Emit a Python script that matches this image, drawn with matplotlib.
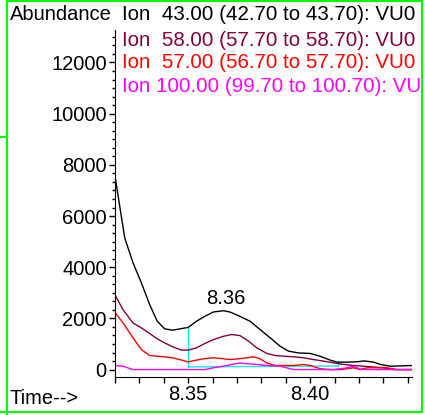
import matplotlib
matplotlib.use("Agg")
import matplotlib.pyplot as plt
from matplotlib.ticker import MultipleLocator, AutoMinorLocator, FormatStrFormatter
from matplotlib.patches import Rectangle
from matplotlib.lines import Line2D

plt.rcParams['font.family'] = ['Liberation Sans', 'DejaVu Sans']

# ion 43 (black)
t43 = [8.3199, 8.3240, 8.3274, 8.3308, 8.3342, 8.3373, 8.3404, 8.3436, 8.3466, 8.3500,
       8.3534, 8.3568, 8.3603, 8.3644, 8.3671, 8.3712, 8.3753, 8.3795, 8.3836, 8.3877,
       8.3911, 8.3952, 8.4000, 8.4041, 8.4082, 8.4110, 8.4151, 8.4199, 8.4219, 8.4260,
       8.4288, 8.4329, 8.4418]
v43 = [7620, 5140, 4170, 3390, 2540, 1890, 1590, 1540, 1590, 1650,
       1890, 2080, 2250, 2300, 2250, 2080, 1890, 1560, 1240, 910,
       720, 650, 630, 520, 370, 290, 290, 310, 340, 290,
       200, 130, 160]

# ion 58 (purple)
t58 = [8.3199, 8.3233, 8.3274, 8.3308, 8.3342, 8.3373, 8.3404, 8.3436, 8.3473, 8.3500,
       8.3534, 8.3568, 8.3603, 8.3644, 8.3678, 8.3712, 8.3747, 8.3781, 8.3822, 8.3856,
       8.3897, 8.3932, 8.3973, 8.4014, 8.4055, 8.4096, 8.4137, 8.4178, 8.4219, 8.4260,
       8.4301, 8.4342, 8.4418]
v58 = [2930, 2340, 1820, 1630, 1410, 1200, 1040, 890, 760, 760,
       850, 1020, 1170, 1300, 1370, 1330, 1110, 850, 630, 550,
       520, 500, 460, 390, 330, 260, 200, 160, 130, 100,
       70, 0, 0]

# ion 57 (red)
t57 = [8.3199, 8.3233, 8.3274, 8.3308, 8.3342, 8.3373, 8.3404, 8.3436, 8.3473, 8.3500,
       8.3534, 8.3568, 8.3603, 8.3637, 8.3671, 8.3705, 8.3740, 8.3767, 8.3795, 8.3822,
       8.3856, 8.3897, 8.3932, 8.3973, 8.4000, 8.4041, 8.4082, 8.4123, 8.4178, 8.4205,
       8.4233, 8.4274, 8.4315, 8.4356, 8.4418]
v57 = [2250, 1820, 1240, 780, 550, 520, 500, 460, 370, 300,
       370, 430, 460, 430, 390, 420, 460, 500, 420, 260,
       160, 160, 160, 200, 160, 30, 0, 0, 70, 0,
       70, 70, 70, 0, 0]

# ion 100 (magenta)
t100 = [8.3199, 8.3233, 8.3274, 8.3568, 8.3603, 8.3644, 8.3678, 8.3712, 8.3740, 8.3781,
        8.3822, 8.3877, 8.3932, 8.4096, 8.4151, 8.4178, 8.4205, 8.4233, 8.4418]
v100 = [160, 130, 0, 0, 70, 130, 200, 260, 230, 200,
        160, 130, 0, 0, 70, 130, 20, 0, 0]

# integration baseline
base_t = [8.35, 8.4115]
base_v = [105, 140]
drop_top = [1650, 330]

peak_label = "8.36"
peak_t = 8.3653
peak_v = 2770

legend_lines = ["Ion  43.00 (42.70 to 43.70): VU0",
                "Ion  58.00 (57.70 to 58.70): VU0",
                "Ion  57.00 (56.70 to 57.70): VU0",
                "Ion 100.00 (99.70 to 100.70): VU0"]
colors = ["black", "#800040", "#ff0000", "#ff00ff"]

fs = 14.5
fig = plt.figure(figsize=(4.25, 4.15), dpi=100)
ax = fig.add_axes([115/425, 1-377/415, 297/425, 347/415])

cyan = "#00f0f8"
ax.plot(base_t, base_v, color=cyan, lw=1)
ax.plot([base_t[0], base_t[0]], [base_v[0], drop_top[0]], color=cyan, lw=1)
ax.plot([base_t[1], base_t[1]], [base_v[1], drop_top[1]], color=cyan, lw=1)

ax.plot(t43, v43, color=colors[0], lw=1)
ax.plot(t58, v58, color=colors[1], lw=1)
ax.plot(t57, v57, color=colors[2], lw=1)
ax.plot(t100, v100, color=colors[3], lw=1)

ax.text(peak_t, peak_v, peak_label, ha="center", va="center", fontsize=fs)

ax.set_xlim(8.32, 8.4417)
ax.set_ylim(-290, 13270)
ax.xaxis.set_major_locator(MultipleLocator(0.05))
ax.xaxis.set_minor_locator(MultipleLocator(0.01))
ax.yaxis.set_major_locator(MultipleLocator(2000))
ax.yaxis.set_minor_locator(AutoMinorLocator(6))
ax.xaxis.set_major_formatter(FormatStrFormatter("%.2f"))
ax.tick_params(axis="both", which="major", labelsize=fs, length=4, width=1, pad=2)
ax.tick_params(axis="y", which="minor", length=2, width=1)
ax.tick_params(axis="x", which="minor", length=4, width=1)
for s in ["top", "right"]:
    ax.spines[s].set_visible(False)

fig.text(10/425, 1-15/415, "Abundance", fontsize=fs, va="center", ha="left")
fig.text(10/425, 1-398/415, "Time-->", fontsize=fs, va="center", ha="left")
ys = [15, 40, 63, 87]
for txt, c, y in zip(legend_lines, colors, ys):
    fig.text(122/425, 1-y/415, txt, color=c, fontsize=14.8, va="center", ha="left")

# cut the text off at the window frame, then draw the green frame
fig.patches.append(Rectangle((422/425, 0), 3/425, 1, transform=fig.transFigure,
                             facecolor="white", edgecolor="none", zorder=10))
green = "#00ff00"
def fline(xs, ys_):
    fig.lines.append(Line2D([x/425 for x in xs], [1-y/415 for y in ys_],
                            transform=fig.transFigure, color=green, lw=1.5, zorder=11))
fline([7, 421.5, 421.5, 0], [1, 1, 411.5, 411.5])
fline([7, 7], [1, 415])
fline([0, 7], [137.5, 137.5])

fig.savefig("out.png", dpi=100)
